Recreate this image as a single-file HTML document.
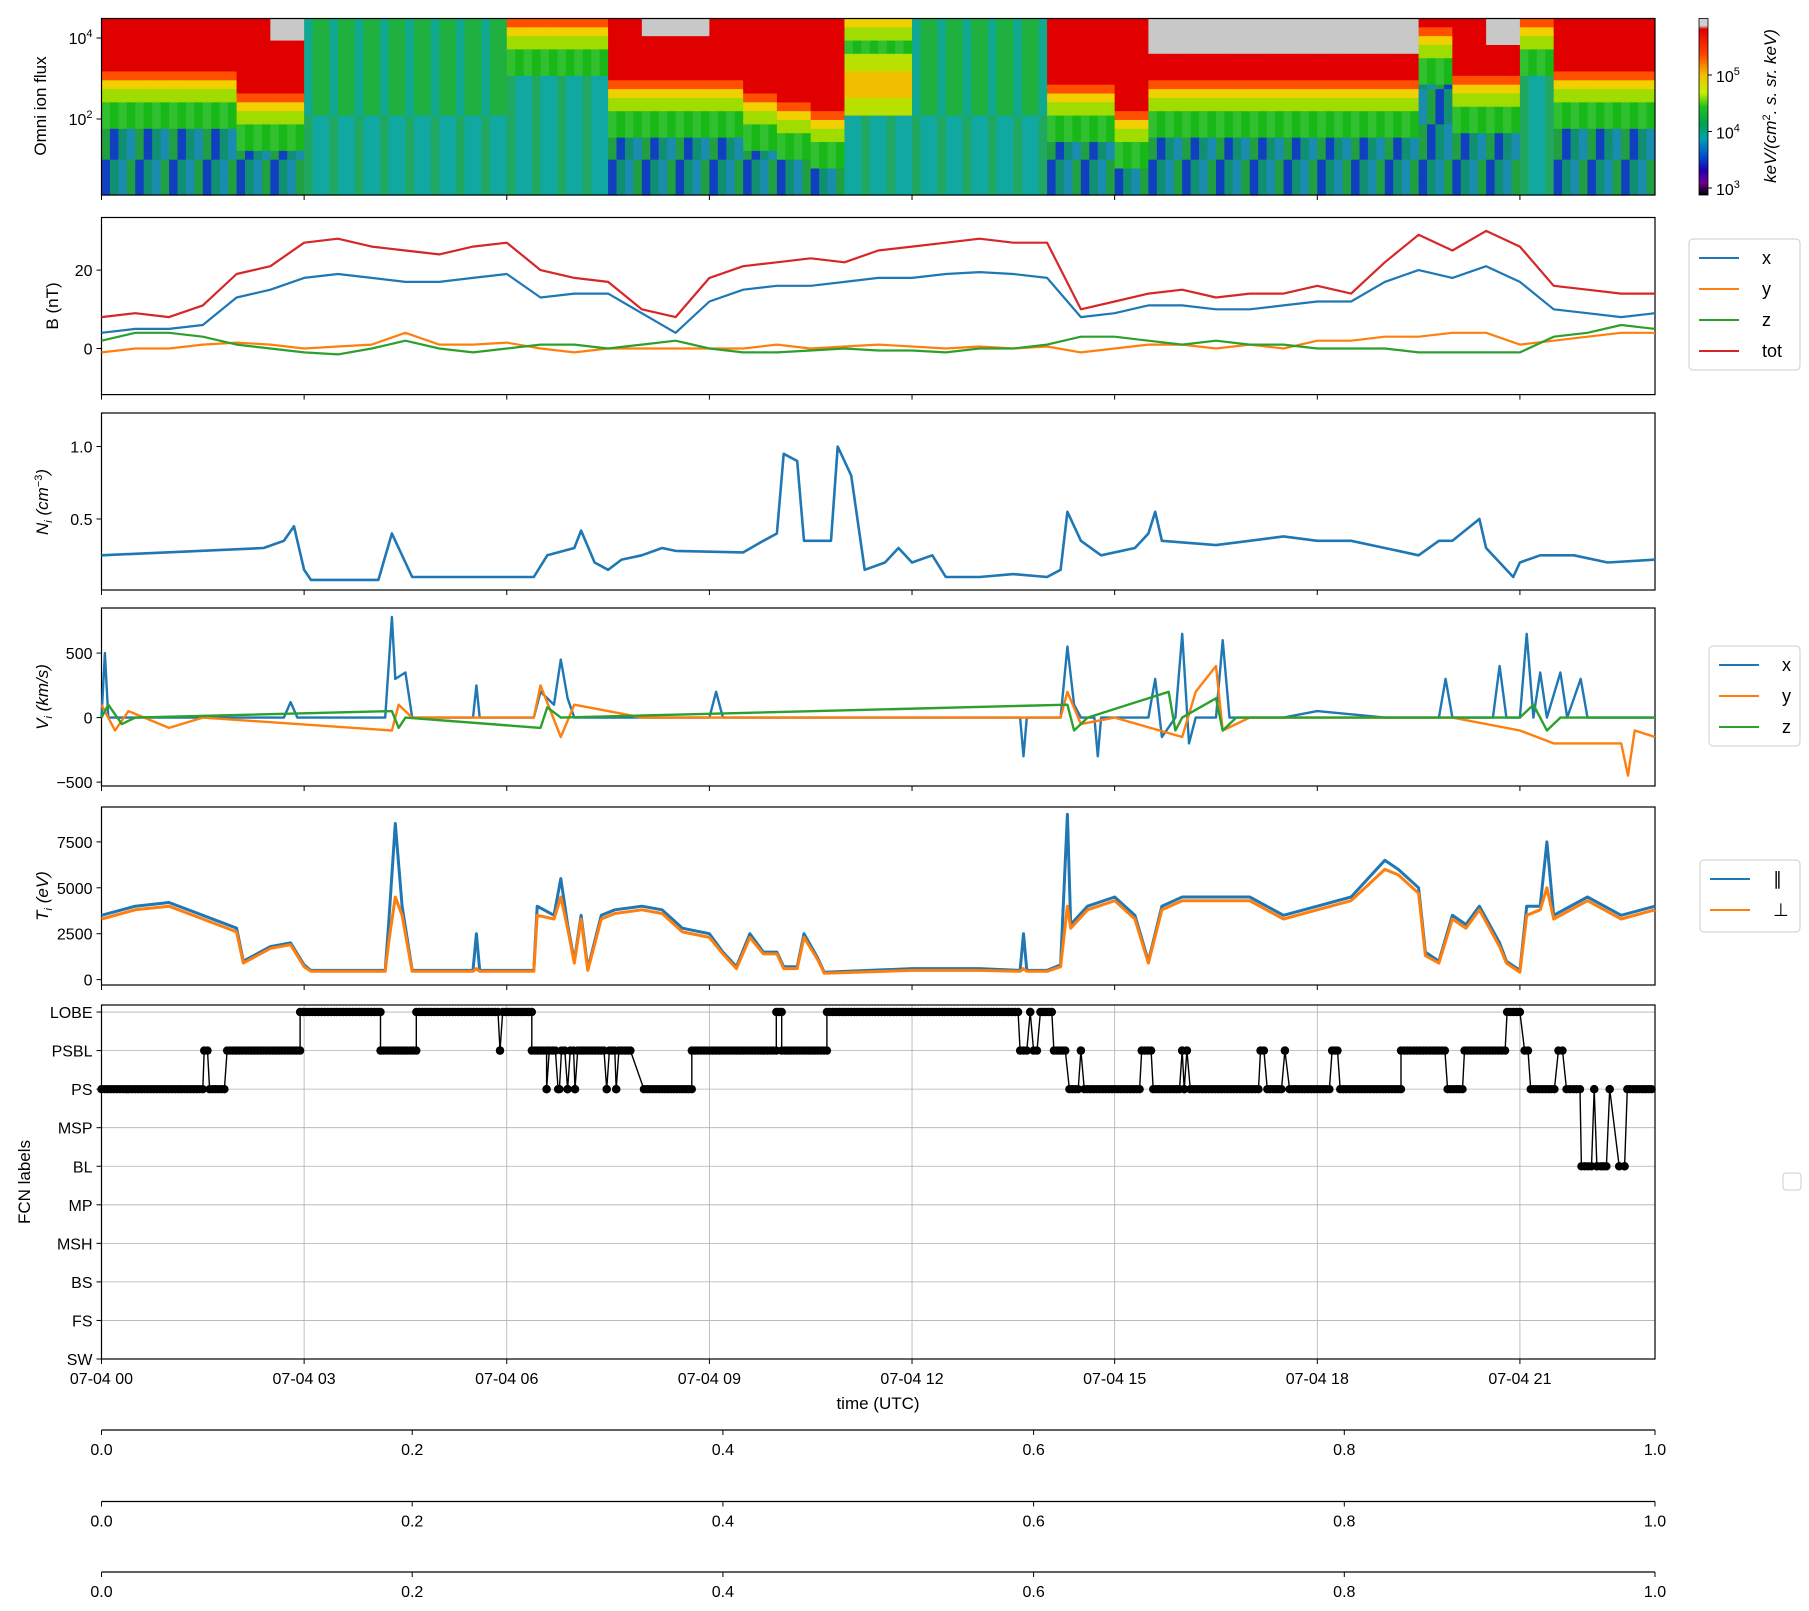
<!DOCTYPE html>
<html><head><meta charset="utf-8">
<style>
html,body{margin:0;padding:0;background:#fff;}
svg{display:block;font-family:"Liberation Sans","DejaVu Sans",sans-serif;}
</style></head>
<body>
<svg id="fig" width="1809" height="1611" viewBox="0 0 1809 1611" xmlns="http://www.w3.org/2000/svg"></svg>
<script>
// ---------- DATA ----------
const hourTicks=[0,3,6,9,12,15,18,21];
const hourTickLabels=["07-04 00","07-04 03","07-04 06","07-04 09","07-04 12","07-04 15","07-04 18","07-04 21"];
// spectrogram per half-hour column
const specRed=[0.34,0.34,0.34,0.34,0.47,0.47,0,0,0,0,0,0,0.05,0.05,0.05,0.4,0.4,0.4,0.4,0.47,0.52,0.57,0,0,0,0,0,0,0.42,0.42,0.57,0.4,0.4,0.4,0.4,0.4,0.4,0.4,0.4,0.1,0.37,0.37,0.05,0.35,0.35,0.35];
const specGray=[0,0,0,0,0,0.12,0,0,0,0,0,0,0,0,0,0,0.1,0.1,0,0,0,0,0,0,0,0,0,0,0,0,0,0.2,0.2,0.2,0.2,0.2,0.2,0.2,0.2,0,0,0.15,0,0,0,0];
const specGlow=[0,0,0,0,0,0,0,0,0,0,0,0,0,0,0,0,0,0,0,0,0,0,1,1,0,0,0,0,0,0,0,0,0,0,0,0,0,0,0,0,0,0,0,0,0,0];
const specActive=[1,1,1,1,1,1,0,0,0,0,0,0,0,0,0,1,1,1,1,1,1,1,0,0,0,0,0,0,1,1,1,1,1,1,1,1,1,1,1,1,1,1,0,1,1,1];
// B field, half-hour samples 0..23h
const bTot=[8,9,8,11,19,21,27,28,26,25,24,26,27,20,18,17,10,8,18,21,22,23,22,25,26,27,28,27,27,10,12,14,15,13,14,14,16,14,22,29,25,30,26,16,15,14,14];
const bX=[4,5,5,6,13,15,18,19,18,17,17,18,19,13,14,14,9,4,12,15,16,16,17,18,18,19,19.5,19,18,8,9,11,11,10,10,11,12,12,17,20,18,21,17,10,9,8,9];
const bY=[-1,0,0,1,1.5,1,0,0.5,1,4,1,1,1.5,0,-1,0,0,0,0,0,1,0,0.5,1,0.5,0,0.5,0,0.5,-1,0,1,1,0,1,0,2,2,3,3,4,4,1,2,3,4,4];
const bZ=[2,4,4,3,1,0,-1,-1.5,0,2,0,-1,0,1,1,0,1,2,0,-1,-1,-0.5,0,-0.5,-0.5,-1,0,0,1,3,3,2,1,2,1,1,0,0,0,-1,-1,-1,-1,3,4,6,5];
// Ni
const niT=[0,2.4,2.7,2.85,3.0,3.1,4.1,4.3,4.5,4.6,6.4,6.6,7.0,7.1,7.3,7.5,7.7,8.0,8.3,8.5,9.5,9.8,10.0,10.1,10.3,10.4,10.8,10.9,11.1,11.3,11.6,11.8,12.0,12.3,12.5,13.0,13.5,14.0,14.2,14.3,14.5,14.8,15.3,15.5,15.6,15.7,16.5,17.0,17.5,18.0,18.5,19.0,19.5,19.8,20.0,20.4,20.5,20.9,21.0,21.3,21.8,22.3,23];
const niV=[0.25,0.3,0.35,0.45,0.15,0.08,0.08,0.4,0.2,0.1,0.1,0.25,0.3,0.42,0.2,0.15,0.22,0.25,0.3,0.28,0.27,0.35,0.4,0.95,0.9,0.35,0.35,1.0,0.8,0.15,0.2,0.3,0.2,0.25,0.1,0.1,0.12,0.1,0.15,0.55,0.35,0.25,0.3,0.4,0.55,0.35,0.32,0.35,0.38,0.35,0.35,0.3,0.25,0.35,0.35,0.5,0.3,0.1,0.2,0.25,0.25,0.2,0.22];
// Vi
const vxT=[0,0.05,0.1,2.7,2.8,2.9,4.2,4.3,4.35,4.5,4.6,5.5,5.55,5.6,6.4,6.5,6.7,6.8,6.9,7.0,9.0,9.1,9.2,13.6,13.65,13.7,14.2,14.3,14.4,14.5,14.7,14.75,14.8,15.5,15.6,15.7,15.9,16.0,16.1,16.2,16.5,16.6,16.7,17.5,18.0,19.0,19.8,19.9,20.0,20.6,20.7,20.8,21.0,21.1,21.2,21.3,21.4,21.6,21.7,21.9,22,23];
const vxV=[0,500,0,0,120,0,0,780,300,350,0,0,250,0,0,200,100,450,150,0,0,200,0,0,-300,0,0,550,100,0,0,-300,0,0,300,-150,0,650,-200,0,0,600,0,0,50,0,0,300,0,0,400,0,0,650,0,350,0,350,0,300,0,0];
const vyT=[0,0.2,0.4,1.0,1.5,4.3,4.4,4.6,6.4,6.5,6.8,7.0,7.5,8.0,14.2,14.3,14.5,15,16.0,16.2,16.5,16.6,17,20,21,21.5,22.5,22.6,22.7,23];
const vyV=[100,-100,50,-80,0,-100,100,0,0,250,-150,100,50,0,0,200,-50,0,-150,200,400,-100,0,0,-100,-200,-200,-450,-100,-150];
const vzT=[0,0.1,0.3,0.5,4.3,4.4,4.5,6.5,6.6,6.8,14.3,14.4,14.6,15.8,15.9,16,16.5,16.6,16.8,21,21.2,21.4,21.6,23];
const vzV=[0,100,-50,0,50,-80,0,-80,80,0,100,-100,0,200,-100,0,150,-100,0,0,100,-100,0,0];
// Ti
const tiT=[0,0.5,1.0,1.5,2.0,2.1,2.5,2.8,3.0,3.1,4.2,4.25,4.35,4.45,4.6,5.5,5.55,5.6,6.4,6.45,6.7,6.8,6.9,7.0,7.1,7.2,7.4,7.6,8.0,8.3,8.6,9.0,9.2,9.4,9.6,9.8,10.0,10.1,10.3,10.4,10.6,10.7,12.0,13.0,13.6,13.65,13.7,14.0,14.2,14.3,14.35,14.6,15.0,15.3,15.5,15.7,16.0,16.5,17.0,17.5,18.0,18.5,19.0,19.2,19.5,19.6,19.8,20.0,20.2,20.4,20.7,20.8,21.0,21.1,21.3,21.4,21.5,22.0,22.5,23];
const tiPar=[3500,4000,4200,3500,2800,1000,1800,2000,800,500,500,3000,8500,4000,500,500,2500,500,500,4000,3500,5500,3000,1000,3500,600,3500,3800,4000,3800,2800,2500,1500,700,2500,1500,1500,700,700,2500,1200,400,600,600,500,2500,500,500,800,9000,3000,4000,4500,3500,1000,4000,4500,4500,4500,3500,4000,4500,6500,6000,5000,1500,1000,3500,3000,4000,2000,1000,500,4000,4000,7500,3500,4500,3500,4000];
const tiPerp=[3300,3800,4000,3300,2600,900,1700,1900,700,450,450,2000,4500,3500,450,450,600,450,450,3500,3300,4500,2800,900,3300,500,3300,3600,3800,3600,2600,2300,1400,600,2300,1400,1400,600,600,2300,1100,350,500,500,450,600,450,450,700,4000,2800,3800,4300,3300,900,3800,4300,4300,4300,3300,3800,4300,6000,5700,4700,1300,900,3300,2800,3800,1800,900,400,3500,3800,5000,3300,4300,3300,3800];
// FCN labels
const fcnNames=["SW","FS","BS","MSH","MP","BL","MSP","PS","PSBL","LOBE"];
const fcnStart=[0,1.52,1.6,1.86,2.94,4.13,4.66,5.9,5.94,6.37,6.59,6.63,6.76,6.81,6.9,6.94,7.01,7.05,7.48,7.52,7.62,7.66,8.03,8.74,9.99,10.07,10.74,13.6,13.75,13.8,13.9,14.1,14.33,14.5,14.55,15.4,15.57,16.0,16.03,16.07,16.12,17.16,17.26,17.52,17.59,18.22,18.34,19.24,19.93,20.18,20.81,21.07,21.16,21.57,21.69,21.91,22.1,22.14,22.2,22.33,22.47,22.55,22.59];
const fcnEnd  =[1.5,1.57,1.82,2.94,4.13,4.66,5.87,5.9,6.37,6.59,6.59,6.72,6.78,6.86,6.9,6.99,7.01,7.44,7.48,7.6,7.62,7.83,8.74,9.99,10.07,10.74,13.57,13.7,13.75,13.85,14.07,14.27,14.46,14.5,15.37,15.54,15.96,16.0,16.03,16.07,17.13,17.21,17.47,17.52,18.18,18.3,19.24,19.89,20.15,20.78,21.0,21.12,21.51,21.63,21.89,22.06,22.1,22.14,22.28,22.33,22.47,22.55,22.95];
const fcnLev  =[7,8,7,8,9,8,9,8,9,8,7,8,7,8,7,8,7,8,7,8,7,8,7,8,9,8,9,8,9,8,9,8,7,8,7,8,7,8,7,8,7,8,7,8,7,8,7,8,7,8,9,8,7,8,7,5,7,5,5,7,5,5,7];
const fracTicks=[0,0.2,0.4,0.6,0.8,1.0];
const fracLabels=["0.0","0.2","0.4","0.6","0.8","1.0"];

// ---------- HELPERS ----------
const NS="http://www.w3.org/2000/svg";
const svg=document.getElementById('fig');
const X0=101.5,X1=1655,TMAX=23;
function xT(t){return X0+(X1-X0)*t/TMAX;}
function el(tag,attrs,parent){const e=document.createElementNS(NS,tag);for(const k in attrs)e.setAttribute(k,attrs[k]);(parent||svg).appendChild(e);return e;}
function txt(s,x,y,attrs,parent){const e=el('text',Object.assign({x:x,y:y,'font-size':16,fill:'#000'},attrs||{}),parent);e.textContent=s;return e;}
function frame(top,bot,name){
  const r=el('rect',{x:X0,y:top,width:X1-X0,height:bot-top,fill:'none',stroke:'#000','stroke-width':1.2});
  
  
  hourTicks.forEach(h=>{const t=el('line',{x1:xT(h),x2:xT(h),y1:bot,y2:bot+5,stroke:'#000','stroke-width':1});
    
    });
}
function yTick(y,label,name,sup){
  const l=el('line',{x1:X0-5,x2:X0,y1:y,y2:y,stroke:'#000'});
  
  
  const t=txt(label,X0-9,y+6,{'text-anchor':'end'});
  
  
  if(sup){const s=el('tspan',{'font-size':11,dy:-7},t);s.textContent=sup;}
}
function yLabel(x,y,parts,name){
  const t=el('text',{x:0,y:0,'font-size':17,'text-anchor':'middle',transform:`translate(${x},${y}) rotate(-90)`});
  
  
  parts.forEach(p=>{const s=el('tspan',p.a||{},t);s.textContent=p.s;});
}
function polyline(ts,vs,ymap,color,name,w){
  const pts=ts.map((t,i)=>xT(t).toFixed(1)+','+ymap(vs[i]).toFixed(1)).join(' ');
  const p=el('polyline',{points:pts,fill:'none',stroke:color,'stroke-width':w||2.2,'stroke-linejoin':'round'});
  
  
}
function legend(x,y,w,h,items,name,rowH,startY){
  const g=el('g',{});
  
  
  el('rect',{x:x,y:y,width:w,height:h,rx:4,fill:'#fff',stroke:'#ccc'},g);
  items.forEach((it,i)=>{const yy=y+startY+i*rowH;
    const ln=el('line',{x1:x+10,x2:x+50,y1:yy,y2:yy,stroke:it.c,'stroke-width':2},g);
    
    
    const t=txt(it.n,x+73,yy+6,{'font-size':18},g);
    
    });
}
const C1='#1f77b4',C2='#ff7f0e',C3='#2ca02c',C4='#d62728';
const half=bTot.map((_,i)=>i*0.5);

// ---------- PANEL 1 SPECTROGRAM ----------
(function(){
  const top=18.5,bot=195,H=bot-top,rows=40,sub=4;
  const g=el('g',{});
  
  
  const cw=(X1-X0)/specRed.length/sub;
  specRed.forEach((d,c)=>{
   for(let s=0;s<sub;s++){
    const cc=c*sub+s;
    for(let r=0;r<rows;r++){
      const f=(r+0.5)/rows;let col;
      if(f<specGray[c]) col='#c8c8c8';
      else if(f<d-0.05) col='#e00000';
      else if(f<d) col='#ff5000';
      else if(f<d+0.06) col='#f0d000';
      else if(f<d+0.13) col='#a0dc00';
      else if(specGlow[c]&&f>0.2&&f<0.55) col=(f>0.3&&f<0.45)?'#f0c000':'#b8e000';
      else if(f<d+0.28) col=(cc%2)?'#18b818':'#30c030';
      else col=specActive[c]?(['#1040c0','#109070','#1a8cb0','#20a040'][(cc+(r>>3))%4]):((cc%3)?'#10a8a0':'#20a860');
      if(d===0&&f<0.55&&!specGlow[c]) col=(cc%3)?'#20b040':'#10a890';
      const cell=el('rect',{x:(X0+cc*cw).toFixed(2),y:(top+r*H/rows).toFixed(2),width:(cw+0.5).toFixed(2),height:(H/rows+0.6).toFixed(2),fill:col},g);
      
      
    }
   }
  });
  frame(top,bot,'spectrogram');
  yTick(38,'10','spectrogram','4');
  yTick(119,'10','spectrogram','2');
  yLabel(46,106,[{s:'Omni ion flux'}],'spectrogram-y-axis-title');
  const defs=el('defs',{});
  const lg=el('linearGradient',{id:'cb',x1:0,y1:0,x2:0,y2:1},defs);
  [['0','#d0d0d0'],['0.04','#d0d0d0'],['0.06','#e00000'],['0.2','#ff4000'],['0.32','#f0c000'],['0.42','#c8f000'],['0.5','#20c020'],['0.6','#00a050'],['0.68','#00a0b0'],['0.78','#0050d0'],['0.86','#2000b0'],['0.93','#700090'],['1','#000']].forEach(s=>el('stop',{offset:s[0],'stop-color':s[1]},lg));
  const cb=el('rect',{x:1699,y:top,width:9,height:H,fill:'url(#cb)',stroke:'#000','stroke-width':0.8});
  
  
  [[75,'5'],[131.5,'4'],[188,'3']].forEach(p=>{el('line',{x1:1708,x2:1712,y1:p[0],y2:p[0],stroke:'#000'});
    const t=txt('10',1716,p[0]+7,{});
    const s=el('tspan',{'font-size':11,dy:-7},t);s.textContent=p[1];});
  yLabel(1776,106,[{s:'keV/(cm',a:{'font-style':'italic'}},{s:'2',a:{'font-size':11,dy:-6}},{s:'. s. sr. keV)',a:{'font-style':'italic',dy:6}}],'colorbar-title');
})();

// ---------- PANEL 2 B ----------
(function(){
  const top=217.5,bot=394.6;const y=v=>348.5-v*3.92;
  frame(top,bot,'b-field');
  yTick(y(0),'0','b-field');yTick(y(20),'20','b-field');
  yLabel(58,306,[{s:'B (nT)'}],'b-field-y-axis-title');
  polyline(half,bX,y,C1,'bx-line');polyline(half,bY,y,C2,'by-line');polyline(half,bZ,y,C3,'bz-line');polyline(half,bTot,y,C4,'btot-line');
  legend(1689,239,111,131,[{n:'x',c:C1},{n:'y',c:C2},{n:'z',c:C3},{n:'tot',c:C4}],'b-field-legend',31,19);
})();

// ---------- PANEL 3 Ni ----------
(function(){
  const top=413,bot=590;const y=v=>519-(v-0.5)*145;
  frame(top,bot,'ni');
  yTick(y(0.5),'0.5','ni');yTick(y(1.0),'1.0','ni');
  yLabel(48,502,[{s:'N',a:{'font-style':'italic'}},{s:'i',a:{'font-size':11,dy:4,'font-style':'italic'}},{s:' (cm',a:{dy:-4,'font-style':'italic'}},{s:'−3',a:{'font-size':11,dy:-6}},{s:')',a:{dy:6,'font-style':'italic'}}],'ni-y-axis-title');
  polyline(niT,niV,y,C1,'ni-line',2.6);
})();

// ---------- PANEL 4 Vi ----------
(function(){
  const top=608,bot=786;const y=v=>717.6-v*0.129;
  frame(top,bot,'vi');
  yTick(y(500),'500','vi');yTick(y(0),'0','vi');yTick(y(-500),'−500','vi');
  yLabel(48,697,[{s:'V',a:{'font-style':'italic'}},{s:'i',a:{'font-size':11,dy:4,'font-style':'italic'}},{s:' (km/s)',a:{dy:-4,'font-style':'italic'}}],'vi-y-axis-title');
  polyline(vxT,vxV,y,C1,'vx-line',2.4);polyline(vyT,vyV,y,C2,'vy-line',2.4);polyline(vzT,vzV,y,C3,'vz-line',2.4);
  legend(1709,646,91,100,[{n:'x',c:C1},{n:'y',c:C2},{n:'z',c:C3}],'vi-legend',31,19);
})();

// ---------- PANEL 5 Ti ----------
(function(){
  const top=807,bot=985;const y=v=>979.6-v*45.9/2500;
  frame(top,bot,'ti');
  [0,2500,5000,7500].forEach(v=>yTick(y(v),String(v),'ti'));
  yLabel(48,896,[{s:'T',a:{'font-style':'italic'}},{s:'i',a:{'font-size':11,dy:4,'font-style':'italic'}},{s:' (eV)',a:{dy:-4,'font-style':'italic'}}],'ti-y-axis-title');
  polyline(tiT,tiPar,y,C1,'ti-par-line',3);polyline(tiT,tiPerp,y,C2,'ti-perp-line',3);
  legend(1700,860,100,72,[{n:'∥',c:C1},{n:'⊥',c:C2}],'ti-legend',31,19);
})();

// ---------- PANEL 6 FCN ----------
(function(){
  const top=1005,bot=1359;const y=l=>1359-l*38.55;
  hourTicks.forEach(h=>{const g=el('line',{x1:xT(h),x2:xT(h),y1:top,y2:bot,stroke:'#b0b0b0','stroke-width':0.8});
    
    });
  fcnNames.forEach((n,i)=>{const g=el('line',{x1:X0,x2:X1,y1:y(i),y2:y(i),stroke:'#b0b0b0','stroke-width':0.8});
    
    
    yTick(y(i),n,'fcn');});
  const ts=[],vs=[];
  fcnStart.forEach((s,i)=>{const e=fcnEnd[i];const n=Math.max(1,Math.round((e-s)/0.045));
    for(let k=0;k<=n;k++){ts.push(s+(e-s)*k/n);vs.push(fcnLev[i]);}});
  polyline(ts,vs,y,'#000','fcn-line',1.4);
  const g=el('g',{fill:'#000'});
  
  
  ts.forEach((t,i)=>{const c=el('circle',{cx:xT(t).toFixed(1),cy:y(vs[i]).toFixed(1),r:4.2},g);
    
    });
  frame(top,bot,'fcn');
  hourTicks.forEach((h,i)=>{const t=txt(hourTickLabels[i],xT(h),1384,{'text-anchor':'middle'});
    
    });
  const xl=txt('time (UTC)',878,1409,{'text-anchor':'middle','font-size':17});
  
  
  yLabel(30,1182,[{s:'FCN labels'}],'fcn-y-axis-title');
  const lb=el('rect',{x:1783,y:1173,width:18,height:17,rx:3,fill:'#fff',stroke:'#ccc'});
  
  
})();

// ---------- EXTRA EMPTY AXES ----------
[1430,1501.5,1572].forEach((yy,k)=>{
  const l=el('line',{x1:X0,x2:X1,y1:yy,y2:yy,stroke:'#000','stroke-width':1.2});
  
  
  fracTicks.forEach((f,i)=>{const x=X0+(X1-X0)*f;
    el('line',{x1:x,x2:x,y1:yy,y2:yy+5,stroke:'#000'});
    const t=txt(fracLabels[i],x,yy+25,{'text-anchor':'middle'});
    
    });
});
</script>
</body></html>
